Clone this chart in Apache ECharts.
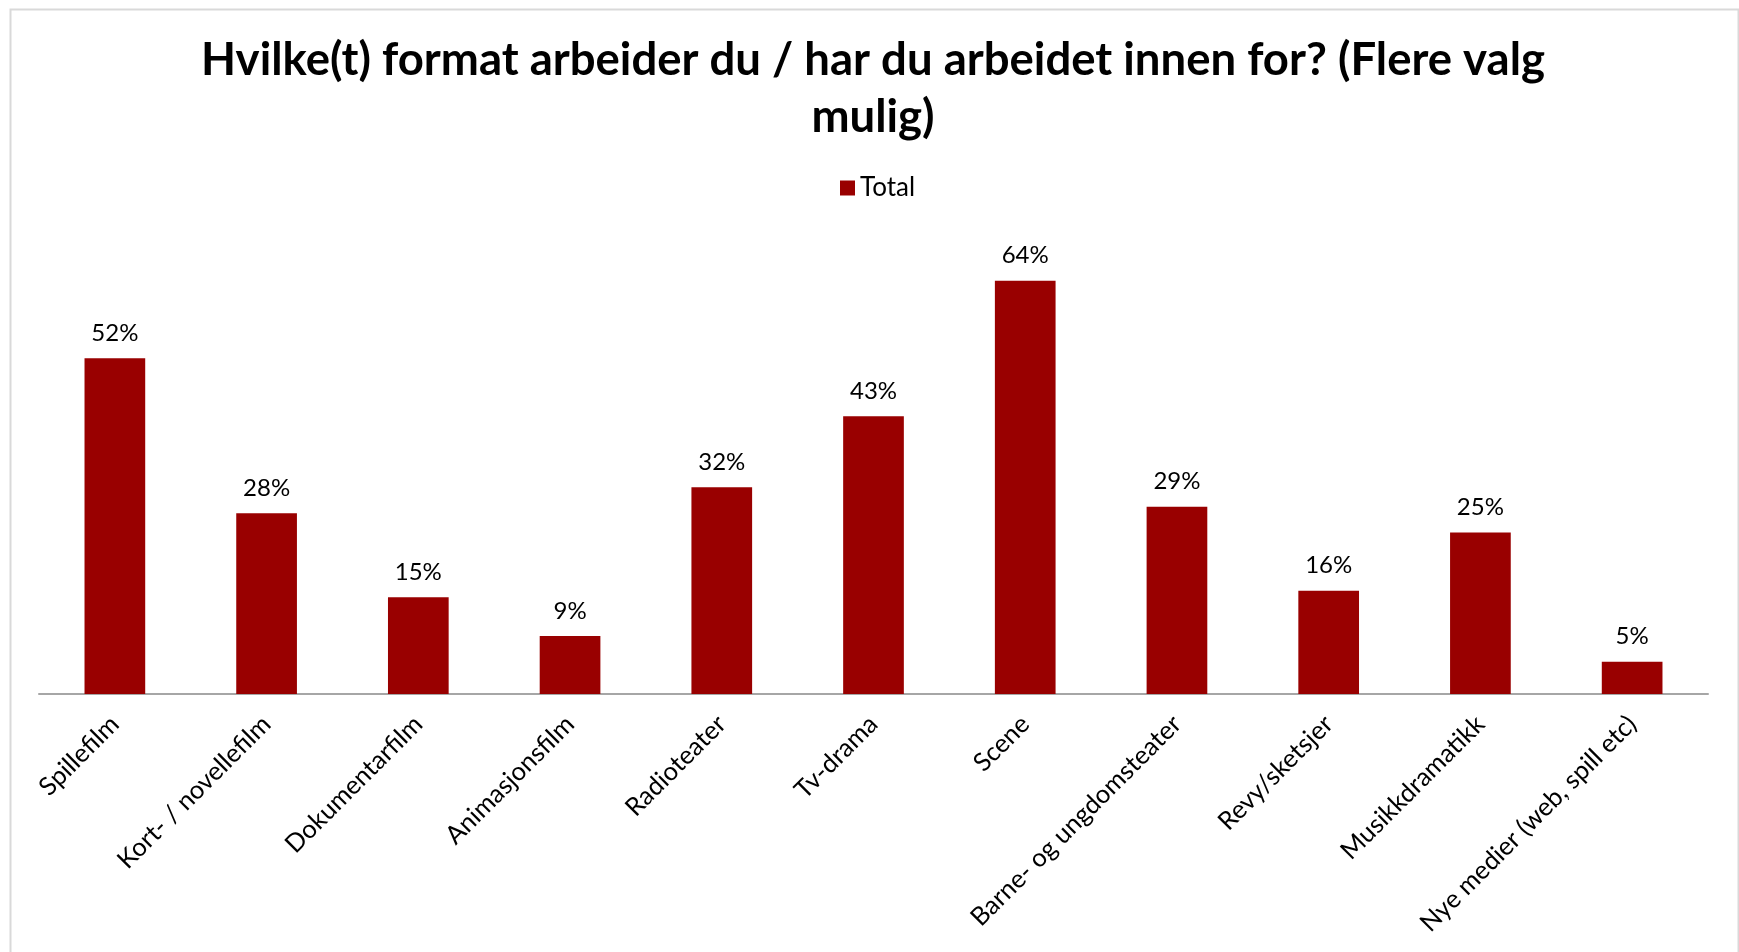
<!DOCTYPE html>
<html>
<head>
<meta charset="utf-8">
<script src="https://cdn.jsdelivr.net/npm/echarts@6/dist/echarts.min.js"></script>
<style>
html,body{margin:0;padding:0;background:#fff;}
#chart{width:1739px;height:952px;}
</style>
</head>
<body>
<div id="chart"></div>
<script>
const titleText = "Hvilke(t) format arbeider du / har du arbeidet innen for? (Flere valg\nmulig)";
const seriesName = "Total";
const categories = ["Spillefilm","Kort- / novellefilm","Dokumentarfilm","Animasjonsfilm","Radioteater","Tv-drama","Scene","Barne- og ungdomsteater","Revy/sketsjer","Musikkdramatikk","Nye medier (web, spill etc)"];
const values = [52, 28, 15, 9, 32, 43, 64, 29, 16, 25, 5];

const FONT = "Lato, 'Open Sans', sans-serif";
const chart = echarts.init(document.getElementById('chart'));
chart.setOption({
  backgroundColor: '#ffffff',
  animation: false,
  graphic: [{
    type: 'rect', left: 8, top: 7, z: -1,
    shape: { width: 1728, height: 960 },
    style: { fill: 'none', stroke: '#d9d9d9', lineWidth: 2 }
  }],
  title: {
    text: titleText,
    left: 868, top: 27,
    textAlign: 'center',
    textStyle: { fontFamily: FONT, fontSize: 45.5, fontWeight: 'bold', color: '#000', lineHeight: 57, align: 'center' }
  },
  legend: {
    data: [seriesName],
    top: 170, left: 835,
    itemWidth: 15, itemHeight: 15, itemGap: 8,
    icon: 'rect',
    textStyle: { fontFamily: FONT, fontSize: 26, color: '#000' }
  },
  grid: { left: 39, right: 31, top: 242, bottom: 258, containLabel: false },
  xAxis: {
    type: 'category',
    data: categories,
    axisLine: { lineStyle: { color: '#a6a6a6', width: 2 } },
    axisTick: { show: false },
    axisLabel: { rotate: 45, margin: 26, interval: 0, fontFamily: FONT, fontSize: 25.5, color: '#000' }
  },
  yAxis: {
    type: 'value', min: 0, max: 70, show: false,
    splitLine: { show: false }
  },
  series: [{
    name: seriesName,
    type: 'bar',
    data: values,
    barCategoryGap: '60%',
    itemStyle: { color: '#990000' },
    label: {
      show: true, position: 'top', distance: 13,
      formatter: p => p.value + '%',
      fontFamily: FONT, fontSize: 24, color: '#000'
    }
  }]
});
</script>
</body>
</html>
